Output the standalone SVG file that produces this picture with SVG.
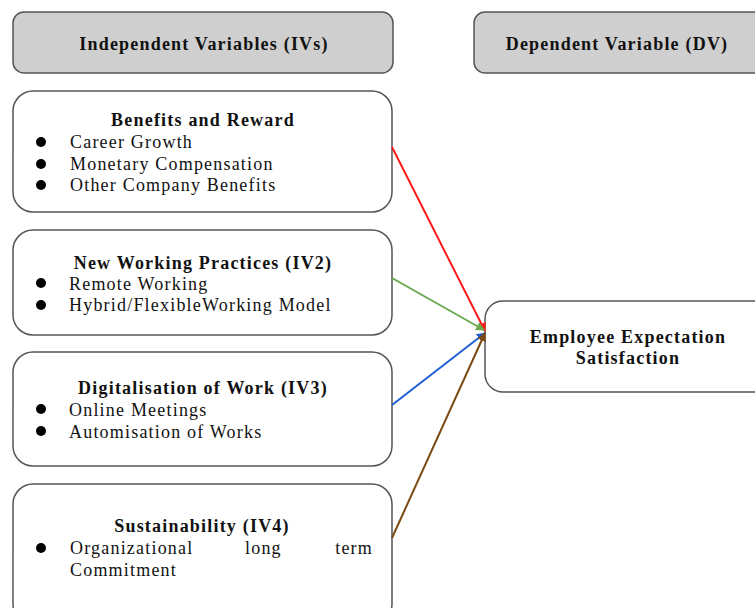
<svg xmlns="http://www.w3.org/2000/svg" width="755" height="608" viewBox="0 0 755 608">
  <style>
    .hdr { fill: #cfcfcf; stroke: #555; stroke-width: 1.5; }
    .box { fill: #ffffff; stroke: #555; stroke-width: 1.5; }
    .title { font-family: "Liberation Serif", "Times New Roman", serif; font-size: 18px; font-weight: bold; fill: #111; letter-spacing: 1.2px; }
    .item { font-family: "Liberation Serif", "Times New Roman", serif; font-size: 18px; fill: #111; letter-spacing: 1.2px; }
    .dot { fill: #000; }
    .conn { fill: none; stroke-width: 2; }
  </style>
  <defs>
    <marker id="ahRed" markerWidth="9" markerHeight="9" refX="8" refY="4.5" orient="auto" markerUnits="userSpaceOnUse"><path d="M0,0 L9,4.5 L0,9 Z" fill="#ff1a1a"/></marker>
    <marker id="ahGreen" markerWidth="9" markerHeight="9" refX="8" refY="4.5" orient="auto" markerUnits="userSpaceOnUse"><path d="M0,0 L9,4.5 L0,9 Z" fill="#6aaa4f"/></marker>
    <marker id="ahBlue" markerWidth="9" markerHeight="9" refX="8" refY="4.5" orient="auto" markerUnits="userSpaceOnUse"><path d="M0,0 L9,4.5 L0,9 Z" fill="#1f5fd6"/></marker>
    <marker id="ahBrown" markerWidth="9" markerHeight="9" refX="8" refY="4.5" orient="auto" markerUnits="userSpaceOnUse"><path d="M0,0 L9,4.5 L0,9 Z" fill="#7a4a12"/></marker>
  </defs>

  <rect width="755" height="608" fill="#ffffff"/>

  <!-- column headers -->
  <g id="hdr-iv">
    <rect class="hdr" x="13" y="12" width="380" height="61" rx="11"/>
    <text class="title" x="204" y="50" text-anchor="middle">Independent Variables (IVs)</text>
  </g>
  <g id="hdr-dv">
    <rect class="hdr" x="474" y="12" width="300" height="61" rx="11"/>
    <text class="title" x="617" y="50" text-anchor="middle">Dependent Variable (DV)</text>
  </g>

  <!-- independent variables -->
  <g id="iv1">
    <rect class="box" x="13" y="91" width="379" height="121" rx="20"/>
    <text class="title" x="203" y="126" text-anchor="middle">Benefits and Reward</text>
    <circle class="dot" cx="41" cy="142" r="5"/>
    <circle class="dot" cx="41" cy="164" r="5"/>
    <circle class="dot" cx="41" cy="185" r="5"/>
    <text class="item" x="70" y="148">Career Growth</text>
    <text class="item" x="70" y="170">Monetary Compensation</text>
    <text class="item" x="70" y="191">Other Company Benefits</text>
  </g>
  <g id="iv2">
    <rect class="box" x="13" y="230" width="379" height="105" rx="20"/>
    <text class="title" x="203" y="269" text-anchor="middle">New Working Practices (IV2)</text>
    <circle class="dot" cx="41" cy="283" r="5"/>
    <circle class="dot" cx="41" cy="305" r="5"/>
    <text class="item" x="69" y="290">Remote Working</text>
    <text class="item" x="69" y="311">Hybrid/FlexibleWorking Model</text>
  </g>
  <g id="iv3">
    <rect class="box" x="13" y="352" width="379" height="114" rx="20"/>
    <text class="title" x="203" y="394" text-anchor="middle">Digitalisation of Work (IV3)</text>
    <circle class="dot" cx="41" cy="409" r="5"/>
    <circle class="dot" cx="41" cy="431" r="5"/>
    <text class="item" x="69" y="416">Online Meetings</text>
    <text class="item" x="69" y="438">Automisation of Works</text>
  </g>
  <g id="iv4">
    <rect class="box" x="13" y="484" width="379" height="140" rx="20"/>
    <text class="title" x="202" y="532" text-anchor="middle">Sustainability (IV4)</text>
    <circle class="dot" cx="41" cy="548" r="5"/>
    <text class="item" x="70" y="554">Organizational</text>
    <text class="item" x="245" y="554">long</text>
    <text class="item" x="373" y="554" text-anchor="end">term</text>
    <text class="item" x="70" y="576">Commitment</text>
  </g>

  <!-- dependent variable -->
  <g id="dv">
    <rect class="box" x="485" y="301" width="300" height="91" rx="18"/>
    <text class="title" x="628" y="343" text-anchor="middle">Employee Expectation</text>
    <text class="title" x="628" y="364" text-anchor="middle">Satisfaction</text>
  </g>

  <!-- connectors -->
  <g id="connectors">
    <line class="conn" x1="392" y1="147" x2="485" y2="331" stroke="#ff1a1a" marker-end="url(#ahRed)"/>
    <line class="conn" x1="392" y1="278" x2="484" y2="330" stroke="#6aaa4f" marker-end="url(#ahGreen)"/>
    <line class="conn" x1="392" y1="405" x2="485" y2="333" stroke="#1f5fd6" marker-end="url(#ahBlue)"/>
    <line class="conn" x1="392" y1="538" x2="485" y2="333" stroke="#7a4a12" marker-end="url(#ahBrown)"/>
  </g>
</svg>
